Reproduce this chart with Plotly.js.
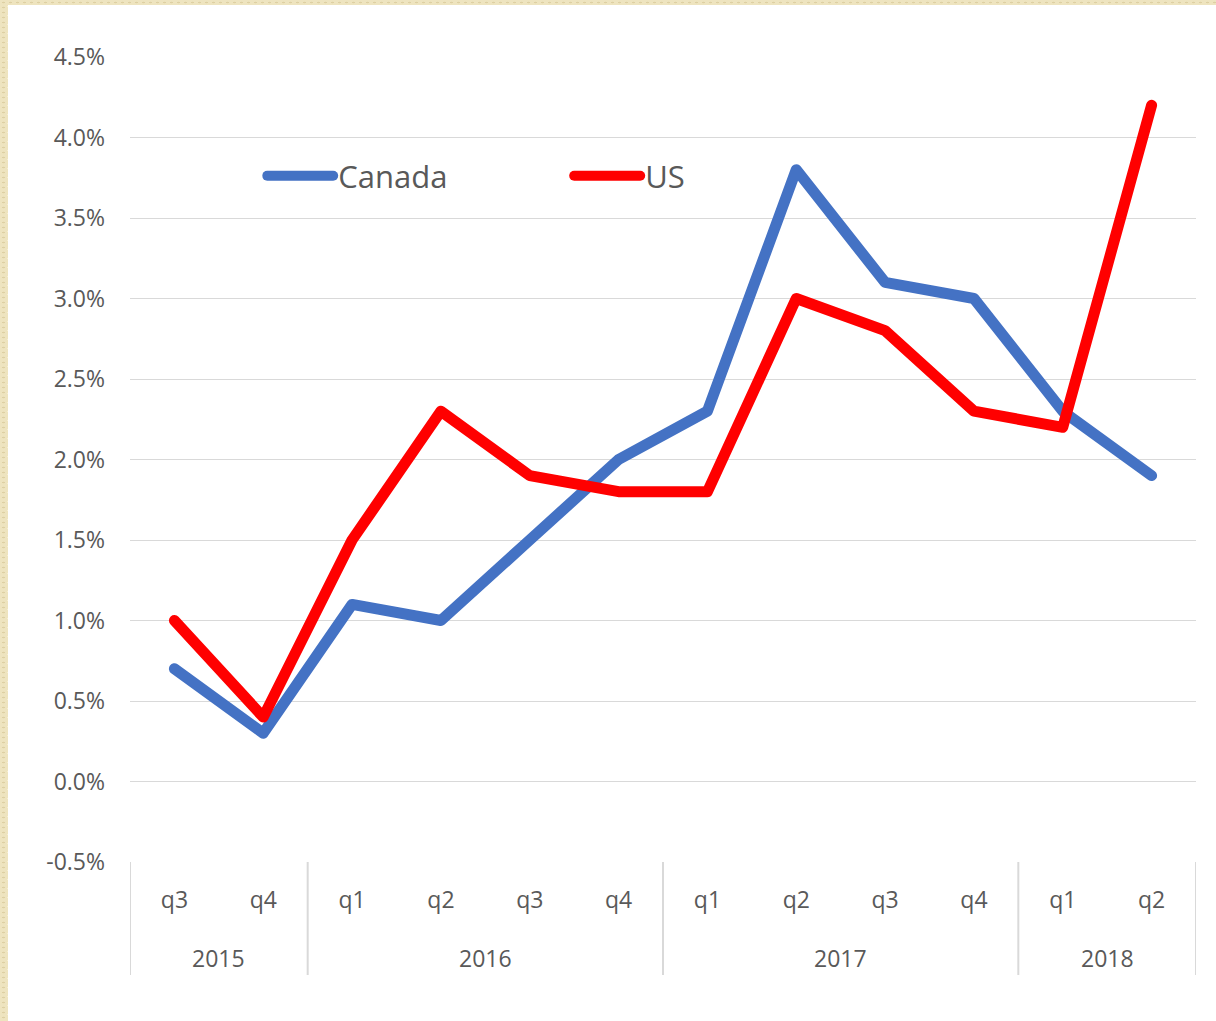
<!DOCTYPE html>
<html>
<head>
<meta charset="utf-8">
<script src="https://cdn.plot.ly/plotly-3.0.1.min.js"></script>
<style>
  html, body { margin: 0; padding: 0; width: 1216px; height: 1021px; overflow: hidden;
    background-color: #eee4bf;
    background-image: radial-gradient(rgba(190,170,110,0.35) 1px, transparent 1.5px),
                      radial-gradient(rgba(255,250,230,0.5) 1px, transparent 1.5px);
    background-size: 7px 5px, 11px 9px; background-position: 0 0, 3px 2px; }
  #chart { position: absolute; left: 8px; top: 5px; width: 1208px; height: 1016px; background: #fff; }
  .scatterlayer path.js-line, .legendlines path { stroke-linecap: round; stroke-linejoin: round; }
</style>
</head>
<body>
<div id="chart"></div>
<script>
const years = ['2015','2015','2016','2016','2016','2016','2017','2017','2017','2017','2018','2018'];
const quarters = ['q3','q4','q1','q2','q3','q4','q1','q2','q3','q4','q1','q2'];
const canada = [0.7, 0.3, 1.1, 1.0, 1.5, 2.0, 2.3, 3.8, 3.1, 3.0, 2.3, 1.9];
const us = [1.0, 0.4, 1.5, 2.3, 1.9, 1.8, 1.8, 3.0, 2.8, 2.3, 2.2, 4.2];
const yTickVals = [-0.5, 0, 0.5, 1.0, 1.5, 2.0, 2.5, 3.0, 3.5, 4.0, 4.5];
const yTickText = ['-0.5%','0.0%','0.5%','1.0%','1.5%','2.0%','2.5%','3.0%','3.5%','4.0%','4.5%'];

const FONT = 'Open Sans, Noto Sans, sans-serif';
const xIdx = quarters.map((_, i) => i);

// group years for outer labels and dividers
const groups = [];
years.forEach((y, i) => {
  if (!groups.length || groups[groups.length - 1].name !== y) groups.push({ name: y, start: i, end: i });
  else groups[groups.length - 1].end = i;
});
const divH = -113 / 805;
const shapes = [];
groups.forEach((g, k) => {
  if (k === 0) shapes.push({ type: 'line', xref: 'x', yref: 'paper', x0: g.start - 0.5, x1: g.start - 0.5, y0: 0, y1: divH, line: { color: '#d9d9d9', width: 2 } });
  shapes.push({ type: 'line', xref: 'x', yref: 'paper', x0: g.end + 0.5, x1: g.end + 0.5, y0: 0, y1: divH, line: { color: '#d9d9d9', width: 2 } });
});
const annotations = groups.map(g => ({
  x: (g.start + g.end) / 2, xref: 'x', y: 0, yref: 'paper', yshift: -96,
  text: g.name, showarrow: false, xanchor: 'center', yanchor: 'middle',
  font: { size: 23, color: '#595959', family: FONT }
}));

const traces = [
  { x: xIdx, y: canada, name: 'Canada', type: 'scatter', mode: 'lines',
    line: { color: '#4472C4', width: 11 } },
  { x: xIdx, y: us, name: 'US', type: 'scatter', mode: 'lines',
    line: { color: '#FF0000', width: 11 } }
];
const layout = {
  width: 1208, height: 1016,
  paper_bgcolor: '#ffffff', plot_bgcolor: '#ffffff',
  margin: { l: 122, r: 20, t: 52, b: 159 },
  font: { family: FONT, color: '#595959', size: 23 },
  showlegend: true,
  legend: { orientation: 'h', x: 0.124, y: 0.852, xanchor: 'left', yanchor: 'middle',
    font: { size: 31, color: '#595959', family: FONT }, itemwidth: 66, entrywidth: 226,
    bgcolor: 'rgba(0,0,0,0)', tracegroupgap: 0 },
  xaxis: { range: [-0.5, 11.5], tickvals: xIdx, ticktext: quarters,
    showgrid: false, zeroline: false, showline: false,
    ticks: '', ticklabelstandoff: 22, tickfont: { size: 23, color: '#595959' } },
  yaxis: { range: [-0.5, 4.5], tickvals: yTickVals, ticktext: yTickText,
    showgrid: true, gridcolor: '#d9d9d9', gridwidth: 1, zeroline: false,
    showline: false, ticks: '', ticklabelstandoff: 24, tickfont: { size: 23, color: '#595959' } },
  shapes: shapes,
  annotations: annotations
};
Plotly.newPlot('chart', traces, layout, { displayModeBar: false, staticPlot: true });
</script>
</body>
</html>
